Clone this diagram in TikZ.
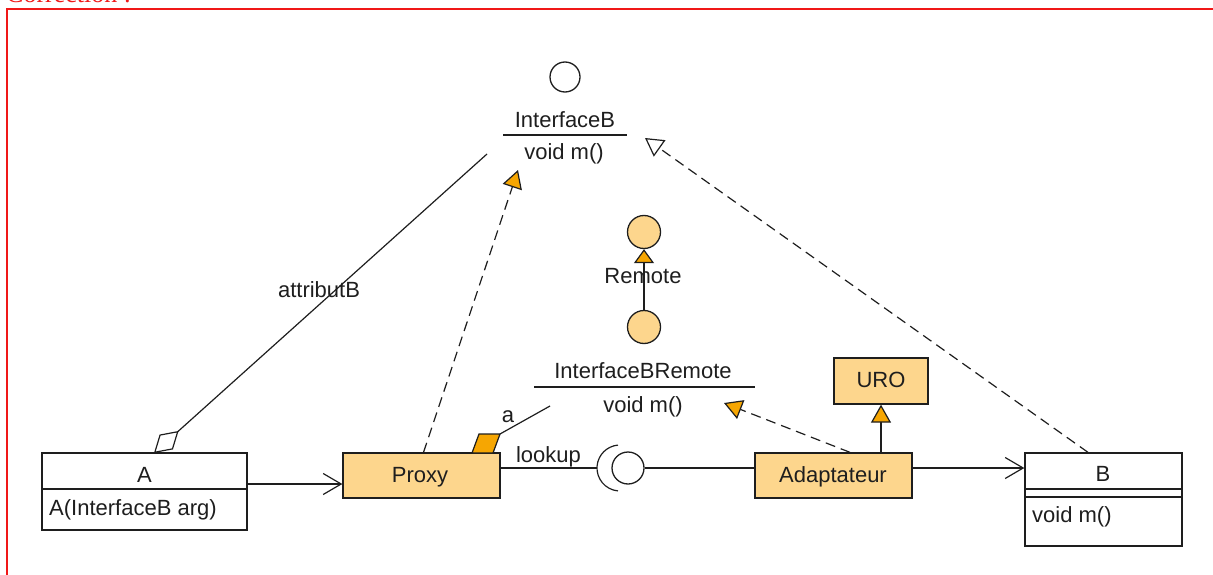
\documentclass[tikz,border=0pt]{standalone}
\usepackage{fontspec}
\setmainfont{Liberation Sans}
\newfontfamily\serifcorr{Liberation Serif}
\usetikzlibrary{arrows.meta,calc}
\definecolor{lorange}{RGB}{253,214,141}
\definecolor{dorange}{RGB}{246,166,2}
\definecolor{bred}{RGB}{240,24,24}
\definecolor{ink}{RGB}{30,30,30}
\begin{document}
\begin{tikzpicture}[x=1pt,y=-1pt,
  every node/.style={font=\fontsize{22}{26}\selectfont, text=ink, inner sep=0pt},
  lbl/.style={anchor=base},
  classbox/.style={draw=ink, line width=1.3pt, rectangle, inner sep=0pt, fill=white},
  hotbox/.style={classbox, fill=lorange},
  conn/.style={draw=ink, line width=1.2pt},
  dashconn/.style={conn, dash pattern=on 10pt off 6pt},
  openarrow/.style={-{Straight Barb[length=18pt,width=21pt,line width=1.2pt]}},
  realhot/.style={-{Triangle[length=18pt,width=20pt,fill=dorange,line width=1.2pt]}},
  realopen/.style={-{Triangle[open,length=18pt,width=20pt,fill=white,line width=1.2pt]}},
  ballstyle/.style={draw=ink, circle, line width=1.3pt, inner sep=0pt}
]
\useasboundingbox (0,0) rectangle (1213,575);
\clip (0,0) rectangle (1213,575);

% frame and heading
\draw[bred, line width=1.5pt] (7,9) rectangle (1240,600);
\node[anchor=base west, text=bred, font=\serifcorr\fontsize{26}{30}\selectfont] (corr) at (6,3) {Correction :};

% InterfaceB
\node[ballstyle, minimum size=30pt] (IBc) at (565,77) {};
\node[lbl] (IBname) at (565,128) {InterfaceB};
\draw[conn] (503,135) -- (627,135);
\node[lbl] (IBop) at (564,160) {void m()};

% Remote
\node[ballstyle, fill=lorange, minimum size=33pt] (Rtop) at (644,232) {};
\node[ballstyle, fill=lorange, minimum size=33pt] (Rbot) at (644,327) {};
\draw[conn, -{Triangle[length=14pt,width=20pt,fill=dorange,line width=1.2pt]}] (Rbot) -- (Rtop);
\node[lbl] (Rlbl) at (643,283) {Remote};

% InterfaceBRemote
\node[lbl] (IBRname) at (643,378) {InterfaceBRemote};
\draw[conn] (534,387) -- (755,387);
\node[lbl] (IBRop) at (643,412) {void m()};

% class A
\node[classbox, minimum width=205pt, minimum height=77pt] (A) at (144.5,491.5) {};
\draw[conn] (42,489) -- (247,489);
\node[lbl] (Aname) at (144.5,482) {A};
\node[anchor=base west] (Actor) at (49,515) {A(InterfaceB arg)};

% Proxy
\node[hotbox, minimum width=157pt, minimum height=45pt] (Proxy) at (421.5,475.5) {};
\node[lbl] (Pname) at (420,482) {Proxy};
\coordinate (port) at (500,434);
\filldraw[draw=ink, fill=dorange, line width=1.2pt] (472,453) -- (493,453) -- (port) -- (479,434) -- cycle;

% Adaptateur
\node[hotbox, minimum width=157pt, minimum height=45pt] (Adapt) at (833.5,475.5) {};
\node[lbl] (Adname) at (833,482) {Adaptateur};

% URO
\node[hotbox, minimum width=94pt, minimum height=46pt] (URO) at (881,381) {};
\node[lbl] (UROname) at (881,387) {URO};

% class B
\node[classbox, minimum width=157pt, minimum height=93pt] (B) at (1103.5,499.5) {};
\draw[conn] (1025,489) -- (1182,489);
\draw[conn] (1025,497) -- (1182,497);
\node[lbl] (Bname) at (1103,481) {B};
\node[anchor=base west] (Bop) at (1032,522) {void m()};

% aggregation A -> InterfaceB
\coordinate (aggA) at (154,453);
\coordinate (aggEnd) at (487,154);
\draw[conn, {Diamond[open,length=33pt,width=20pt,line width=1.2pt]}-] (aggA) -- (aggEnd);
\node[lbl] (attr) at (319,297) {attributB};

% A -> Proxy
\coordinate (yAP) at (0,484);
\draw[conn, openarrow] (A.east |- yAP) -- (Proxy.west |- yAP);

% Proxy realizes InterfaceB
\coordinate (ibT1) at (518,170);
\draw[dashconn, realhot] ($(Proxy.north)+(2,0)$) -- (ibT1);

% B realizes InterfaceB
\coordinate (ibT2) at (645,138);
\draw[dashconn, realopen] ($(B.north)+(-15.5,0)$) -- (ibT2);

% Adaptateur realizes InterfaceBRemote
\coordinate (ibrT) at (724,403);
\draw[dashconn, realhot] ($(Adapt.north)+(16.5,0)$) -- (ibrT);

% Adaptateur extends URO
\draw[conn, realhot] (Adapt.north -| URO) -- (URO.south);

% Adaptateur -> B
\coordinate (sockc) at (620,468);
\draw[conn, openarrow] (Adapt.east |- sockc) -- (B.west |- sockc);

% port line a
\coordinate (aend) at (550,406);
\draw[conn] (port) -- (aend);
\node[lbl] (alabel) at (508,422) {a};

% lookup: required / provided interface
\node[ballstyle, minimum size=32pt] (ball) at (628,468) {};
\draw[conn] (Proxy.east |- sockc) -- ($(sockc)+(-23,0)$);
\draw[conn] ([shift={(95:23)}]sockc) arc[start angle=95, end angle=265, radius=23];
\draw[conn] (ball) -- (Adapt.west |- ball);
\node[lbl] (lookup) at (548.5,462) {lookup};
\end{tikzpicture}
\end{document}
